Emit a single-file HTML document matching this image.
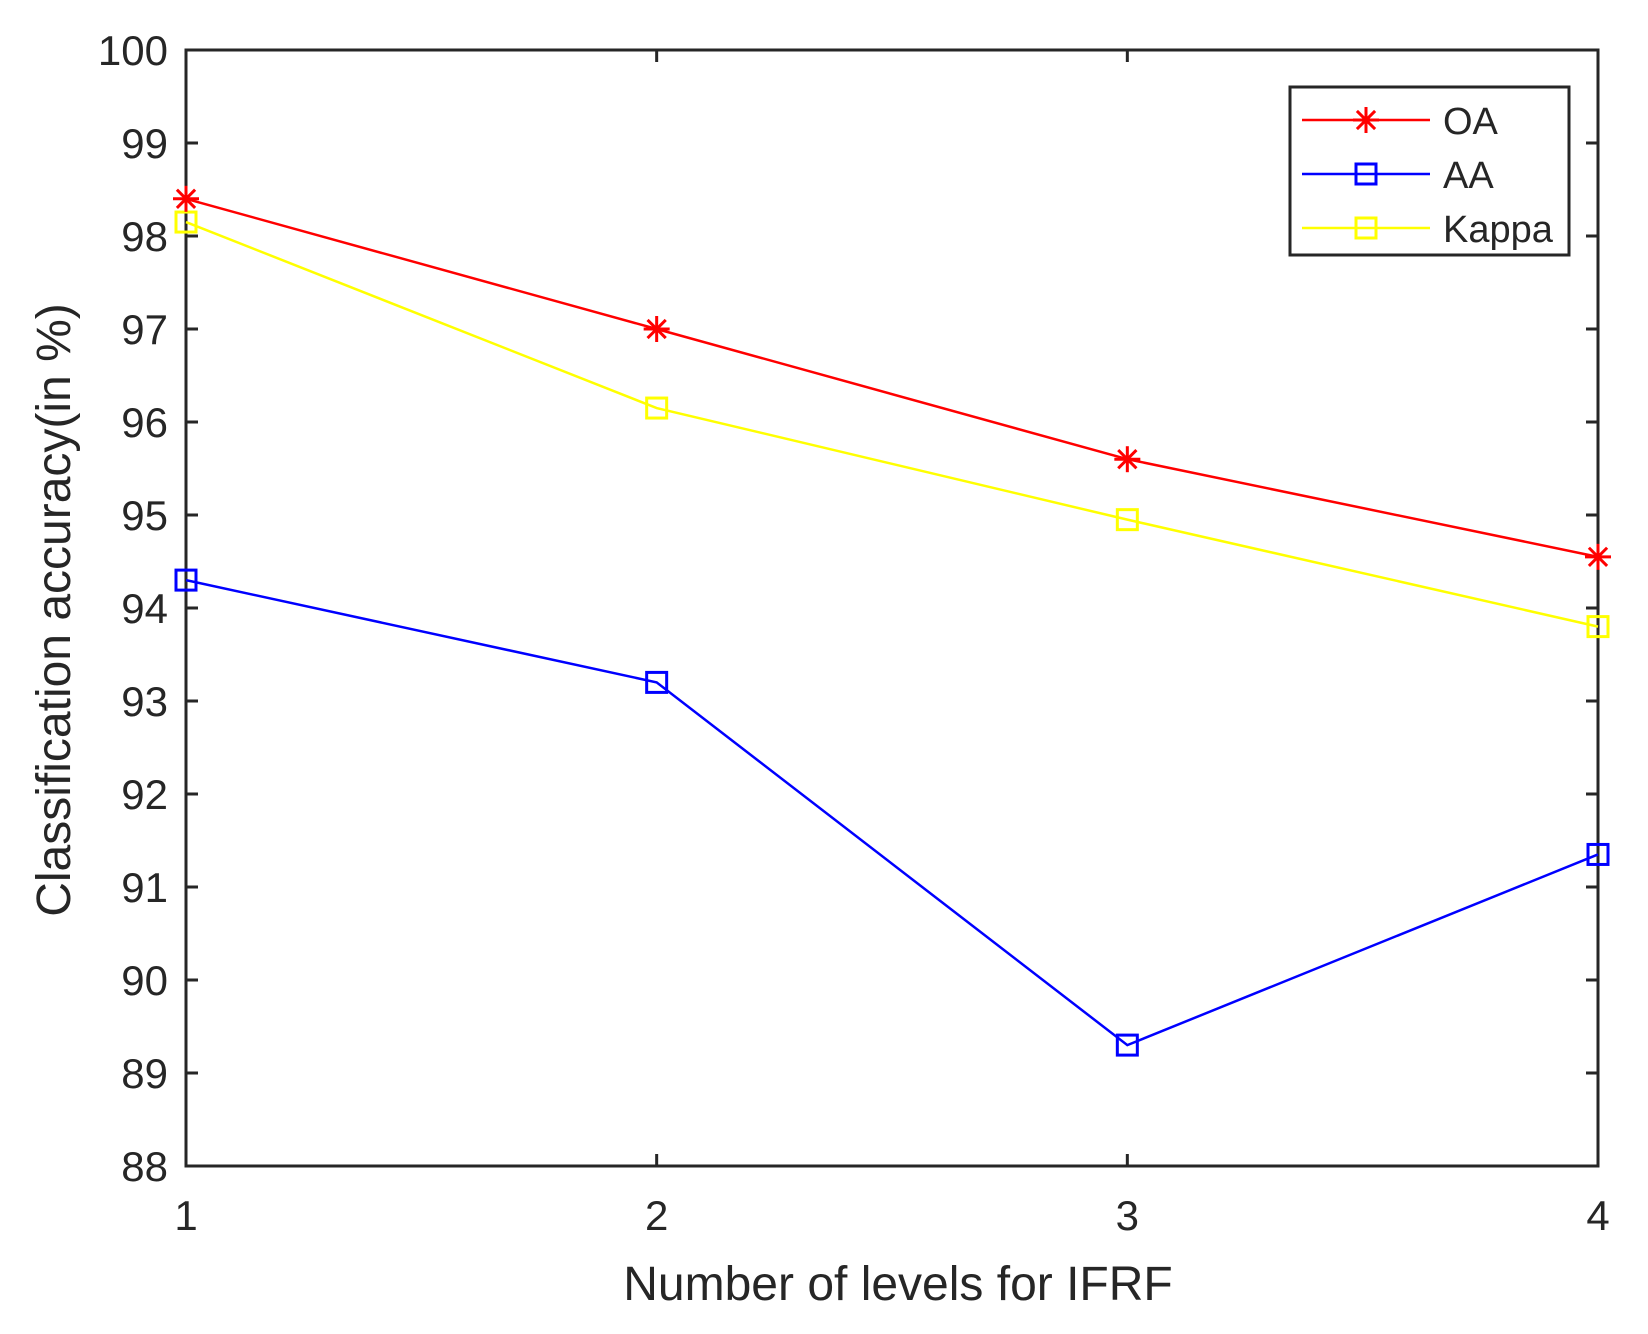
<!DOCTYPE html>
<html><head><meta charset="utf-8"><style>
body{margin:0;background:#fff}
svg text{font-family:"Liberation Sans",sans-serif;fill:#262626}
</style></head><body>
<svg width="1648" height="1329" id="c">
<rect width="1648" height="1329" fill="#fff"/>
</svg>
<script>
const categories=[1,2,3,4];
const oaValues=[98.4,97.0,95.6,94.55];
const aaValues=[94.3,93.2,89.3,91.35];
const kappaValues=[98.15,96.15,94.95,93.8];
const yTicks=[88,89,90,91,92,93,94,95,96,97,98,99,100];
const xTicks=[1,2,3,4];
const L=186,R=1598,T=50,B=1166;
const X=v=>L+(v-1)/3*(R-L);
const Y=v=>B-(v-88)/12*(B-T);
const svg=document.getElementById('c');
const NS='http://www.w3.org/2000/svg';
function mk(t,a,p){const e=document.createElementNS(NS,t);for(const k in a)e.setAttribute(k,a[k]);(p||svg).appendChild(e);return e;}
const ax=mk('g',{});


mk('rect',{x:L,y:T,width:R-L,height:B-T,fill:'none',stroke:'#262626','stroke-width':3},ax);
yTicks.forEach(v=>{const y=Y(v);
mk('line',{x1:L,y1:y,x2:L+12,y2:y,stroke:'#262626','stroke-width':3},ax);
mk('line',{x1:R,y1:y,x2:R-12,y2:y,stroke:'#262626','stroke-width':3},ax);
const t=mk('text',{x:L-18,y:y+15,'text-anchor':'end','font-size':42},ax);t.textContent=v;

});
xTicks.forEach(v=>{const x=X(v);
mk('line',{x1:x,y1:B,x2:x,y2:B-12,stroke:'#262626','stroke-width':3},ax);
mk('line',{x1:x,y1:T,x2:x,y2:T+12,stroke:'#262626','stroke-width':3},ax);
const t=mk('text',{x:x,y:B+64,'text-anchor':'middle','font-size':42},ax);t.textContent=v;

});
const xl=mk('text',{x:898,y:1300,'text-anchor':'middle','font-size':48});xl.textContent='Number of levels for IFRF';


const yl=mk('text',{x:0,y:0,'text-anchor':'middle','font-size':48,transform:'translate(70,610) rotate(-90)'});yl.textContent='Classification accuracy(in %)';


function star(g,x,y,c){const r=13;
[[0,r],[r,0],[r*.7,r*.7],[r*.7,-r*.7]].forEach(([dx,dy])=>mk('line',{x1:x-dx,y1:y-dy,x2:x+dx,y2:y+dy,stroke:c,'stroke-width':3},g));}
function sq(g,x,y,c){mk('rect',{x:x-10,y:y-10,width:20,height:20,fill:'none',stroke:c,'stroke-width':3},g);}
function series(vals,c,m,name){const g=mk('g',{});


mk('polyline',{points:vals.map((v,i)=>X(categories[i])+','+Y(v)).join(' '),fill:'none',stroke:c,'stroke-width':2.5},g);
vals.forEach((v,i)=>m(g,X(categories[i]),Y(v),c));}
series(kappaValues,'#ffff00',sq,'kappa-series');
series(aaValues,'#0000ff',sq,'aa-series');
series(oaValues,'#ff0000',star,'oa-series');
const lg=mk('g',{});


mk('rect',{x:1290,y:87,width:279,height:168,fill:'#fff',stroke:'#262626','stroke-width':3},lg);
[['OA','#ff0000',star],['AA','#0000ff',sq],['Kappa','#ffff00',sq]].forEach(([n,c,m],i)=>{const y=120+i*54;
const e=mk('g',{},lg);


mk('line',{x1:1302,y1:y,x2:1430,y2:y,stroke:c,'stroke-width':2.5},e);m(e,1366,y,c);
const t=mk('text',{x:1443,y:y+14,'font-size':38},e);t.textContent=n;});
</script>
</body></html>
